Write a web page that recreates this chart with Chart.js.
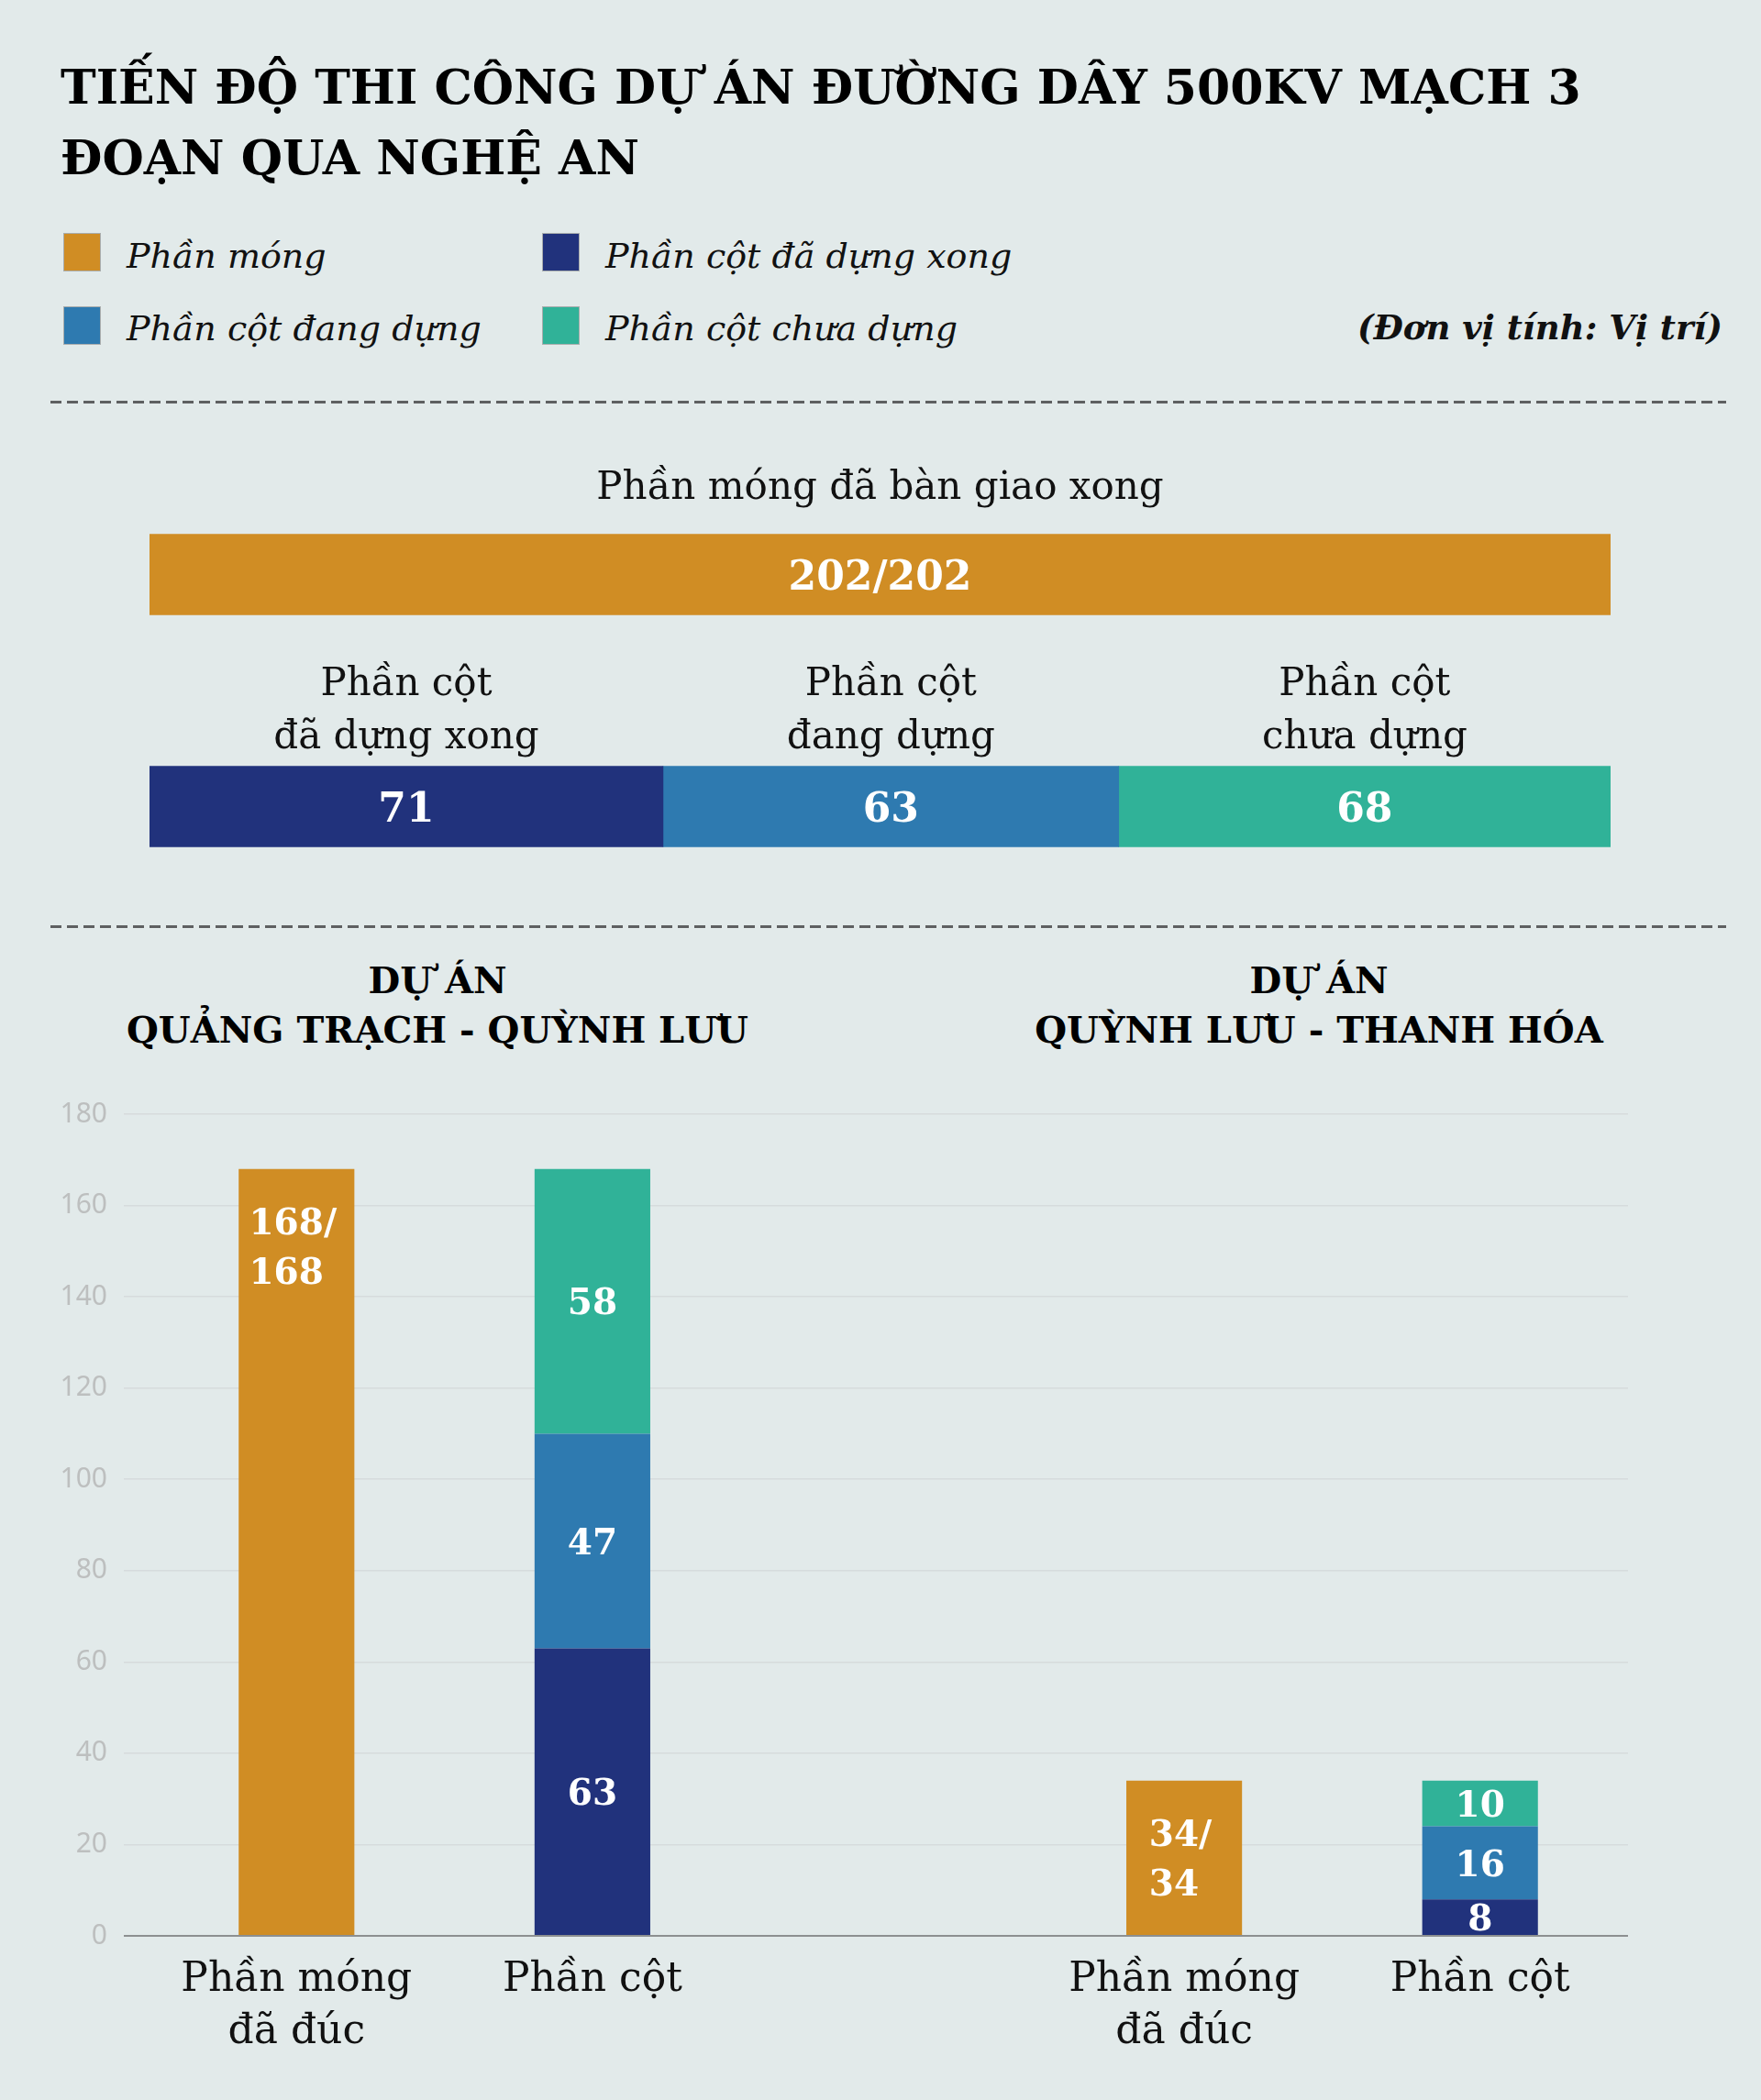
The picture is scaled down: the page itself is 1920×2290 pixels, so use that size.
<!DOCTYPE html>
<html lang="vi">
<head>
<meta charset="utf-8">
<title>Tiến độ thi công dự án đường dây 500kV mạch 3</title>
<script src="https://cdn.jsdelivr.net/npm/chart.js@4.4.1/dist/chart.umd.min.js"></script>
<style>
  html, body { margin: 0; padding: 0; }
  body {
    width: 1920px; height: 2290px; position: relative; overflow: hidden;
    background: #e2eaea; font-family: 'DejaVu Serif', serif; color: #111;
  }
  .abs { position: absolute; white-space: nowrap; }
  #title { left: 66px; top: 56px; font-size: 52px; line-height: 77px; font-weight: bold; color: #000; }
  .lg-box { position: absolute; width: 41px; height: 42px; box-sizing: border-box; border: 1px solid #a9adad; }
  .lg-text { position: absolute; font-size: 38px; line-height: 38px; font-style: italic; white-space: nowrap; }
  #unit { right: 42px; top: 339px; font-size: 37px; line-height: 37px; font-style: italic; font-weight: bold; }
  .dash {
    position: absolute; left: 55px; width: 1827px; height: 3px;
    background: repeating-linear-gradient(to right, #5e6061 0 12px, transparent 12px 18px);
  }
  .proj { position: absolute; width: 800px; text-align: center; font-size: 40px; line-height: 54px; font-weight: bold; color: #000; }
  canvas { position: absolute; }
</style>
</head>
<body>
<div id="title" class="abs">TIẾN ĐỘ THI CÔNG DỰ ÁN ĐƯỜNG DÂY 500KV MẠCH 3<br>ĐOẠN QUA NGHỆ AN</div>
<div id="legend"></div>
<div id="unit" class="abs">(Đơn vị tính: Vị trí)</div>
<div class="dash" style="top:437px"></div>
<div class="dash" style="top:1009px"></div>
<div id="proj0" class="proj" style="left:77px; top:1042px"></div>
<div id="proj1" class="proj" style="left:1038px; top:1042px"></div>
<canvas id="summaryChart" width="1593" height="546" style="left:163px; top:460px"></canvas>
<canvas id="projectChart" width="1920" height="1140" style="left:0px; top:1150px"></canvas>

<script>
// ---- data ----
const legendLabels = ['Phần móng', 'Phần cột đã dựng xong', 'Phần cột đang dựng', 'Phần cột chưa dựng'];

// toàn tuyến qua Nghệ An
const summaryMongLabel = 'Phần móng đã bàn giao xong';
const summaryMongDone = [202];
const summaryMongTotal = [202];
const summaryCotLabels = [['Phần cột', 'đã dựng xong'], ['Phần cột', 'đang dựng'], ['Phần cột', 'chưa dựng']];
const summaryCotDaDung = [71];
const summaryCotDangDung = [63];
const summaryCotChuaDung = [68];

// từng dự án
const projectTitles = [['DỰ ÁN', 'QUẢNG TRẠCH - QUỲNH LƯU'], ['DỰ ÁN', 'QUỲNH LƯU - THANH HÓA']];
const barCategories = [['Phần móng', 'đã đúc'], 'Phần cột', '', ['Phần móng', 'đã đúc'], 'Phần cột'];
const mongDaDuc   = [168, null, null, 34, null];
const mongTong    = [168, null, null, 34, null];
const cotDaDung   = [null, 63, null, null, 8];
const cotDangDung = [null, 47, null, null, 16];
const cotChuaDung = [null, 58, null, null, 10];
const yMax = 180;
const yStep = 20;

// ---- colors ----
const COLORS = ['#d08d24', '#21327c', '#2e7ab0', '#30b298'];

// legend + project titles (html)
const legendPos = [[69, 138, 254, 260], [591, 660, 254, 260], [69, 138, 334, 339], [591, 660, 334, 339]];
const legendEl = document.getElementById('legend');
legendLabels.forEach((label, i) => {
    const p = legendPos[i];
    const box = document.createElement('div');
    box.className = 'lg-box';
    box.style.cssText = 'left:' + p[0] + 'px;top:' + p[2] + 'px;background:' + COLORS[i];
    legendEl.appendChild(box);
    const t = document.createElement('div');
    t.className = 'lg-text';
    t.style.cssText = 'left:' + p[1] + 'px;top:' + p[3] + 'px';
    t.textContent = label;
    legendEl.appendChild(t);
});
projectTitles.forEach((lines, i) => {
    document.getElementById('proj' + i).innerHTML = lines.join('<br>');
});

Chart.defaults.font.family = "'DejaVu Serif', serif";
Chart.defaults.animation = false;

const CAP = 0.729; // cap height / font size (DejaVu Serif)

// ---- summary chart (horizontal stacked) ----
const summaryLabels = {
    id: 'summaryLabels',
    afterDatasetsDraw(chart) {
        const ctx = chart.ctx;
        ctx.save();
        chart.data.datasets.forEach((ds, di) => {
            const meta = chart.getDatasetMeta(di);
            meta.data.forEach((bar, i) => {
                const v = ds.data[i];
                if (v == null) return;
                const cx = (bar.x + bar.base) / 2;
                const top = bar.y - bar.height / 2;
                ctx.textAlign = 'center';
                ctx.textBaseline = 'alphabetic';
                // value
                ctx.fillStyle = '#fff';
                ctx.font = 'bold 44px "DejaVu Serif"';
                const txt = di === 0 ? v + '/' + summaryMongTotal[i] : String(v);
                ctx.fillText(txt, cx, bar.y + 44 * CAP / 2);
                // caption above
                ctx.fillStyle = '#111';
                ctx.font = '42px "DejaVu Serif"';
                if (di === 0) {
                    ctx.fillText(summaryMongLabel, cx, top - 39);
                } else {
                    const lines = summaryCotLabels[di - 1];
                    ctx.fillText(lines[0], cx, top - 78);
                    ctx.fillText(lines[1], cx, top - 20);
                }
            });
        });
        ctx.restore();
    }
};

new Chart(document.getElementById('summaryChart'), {
    type: 'bar',
    data: {
        labels: ['mong', 'cot'],
        datasets: [
            { label: legendLabels[0], data: [summaryMongDone[0], null], backgroundColor: COLORS[0] },
            { label: legendLabels[1], data: [null, summaryCotDaDung[0]], backgroundColor: COLORS[1] },
            { label: legendLabels[2], data: [null, summaryCotDangDung[0]], backgroundColor: COLORS[2] },
            { label: legendLabels[3], data: [null, summaryCotChuaDung[0]], backgroundColor: COLORS[3] }
        ]
    },
    options: {
        indexAxis: 'y',
        responsive: false,
        layout: { padding: { top: 40 } },
        datasets: { bar: { barThickness: 88, borderWidth: 0 } },
        plugins: { legend: { display: false }, tooltip: { enabled: false } },
        scales: {
            x: { stacked: true, min: 0, max: summaryMongTotal[0], display: false },
            y: { stacked: true, display: false }
        }
    },
    plugins: [summaryLabels]
});

// ---- project chart (vertical stacked) ----
const projectLabels = {
    id: 'projectLabels',
    afterDatasetsDraw(chart) {
        const ctx = chart.ctx;
        const size = 39;
        const capH = size * CAP;
        ctx.save();
        ctx.fillStyle = '#fff';
        ctx.font = 'bold ' + size + 'px "DejaVu Serif"';
        ctx.textBaseline = 'alphabetic';
        chart.data.datasets.forEach((ds, di) => {
            const meta = chart.getDatasetMeta(di);
            meta.data.forEach((bar, i) => {
                const v = ds.data[i];
                if (v == null) return;
                const top = Math.min(bar.y, bar.base);
                const bottom = Math.max(bar.y, bar.base);
                const mid = (top + bottom) / 2;
                if (ds.totals) {
                    const lines = [v + '/', String(ds.totals[i])];
                    const w = Math.max(...lines.map(l => ctx.measureText(l).width));
                    const x0 = bar.x - w / 2 - 4;
                    const gap = 54;
                    let y0;
                    if (bottom - top > 400) {
                        y0 = top + 71;
                    } else {
                        y0 = mid - (gap + capH) / 2 + capH;
                    }
                    ctx.textAlign = 'left';
                    ctx.fillText(lines[0], x0, y0);
                    ctx.fillText(lines[1], x0, y0 + gap);
                } else {
                    ctx.textAlign = 'center';
                    ctx.fillText(String(v), bar.x, mid + capH / 2);
                }
            });
        });
        ctx.restore();
    }
};

const gridColor = (c) => (c.tick && c.tick.value === 0) ? '#8c8f90' : '#d6dbdc';

new Chart(document.getElementById('projectChart'), {
    type: 'bar',
    data: {
        labels: barCategories,
        datasets: [
            { label: legendLabels[0], data: mongDaDuc, totals: mongTong, backgroundColor: COLORS[0] },
            { label: legendLabels[1], data: cotDaDung, backgroundColor: COLORS[1] },
            { label: legendLabels[2], data: cotDangDung, backgroundColor: COLORS[2] },
            { label: legendLabels[3], data: cotChuaDung, backgroundColor: COLORS[3] }
        ]
    },
    options: {
        responsive: false,
        layout: { padding: { top: 65, right: 145, left: 0, bottom: 0 } },
        datasets: { bar: { categoryPercentage: 1, barPercentage: 0.391, borderWidth: 0 } },
        plugins: { legend: { display: false }, tooltip: { enabled: false } },
        scales: {
            x: {
                stacked: true,
                grid: { display: false },
                border: { display: false },
                ticks: {
                    color: '#111',
                    font: { size: 44, lineHeight: 1.3 },
                    padding: 12,
                    maxRotation: 0,
                    autoSkip: false
                },
                afterFit(scale) { scale.height = 179; }
            },
            y: {
                stacked: true,
                min: 0,
                max: yMax,
                border: { display: false },
                grid: {
                    color: gridColor,
                    tickColor: gridColor,
                    lineWidth: (c) => (c.tick && c.tick.value === 0) ? 2 : 1.5,
                    drawTicks: true,
                    tickLength: 27
                },
                ticks: {
                    stepSize: yStep,
                    color: '#bdbfbf',
                    font: { family: "'Noto Sans', sans-serif", size: 30 },
                    padding: 18
                },
                afterFit(scale) { scale.width = 162; }
            }
        }
    },
    plugins: [projectLabels]
});
</script>
</body>
</html>
